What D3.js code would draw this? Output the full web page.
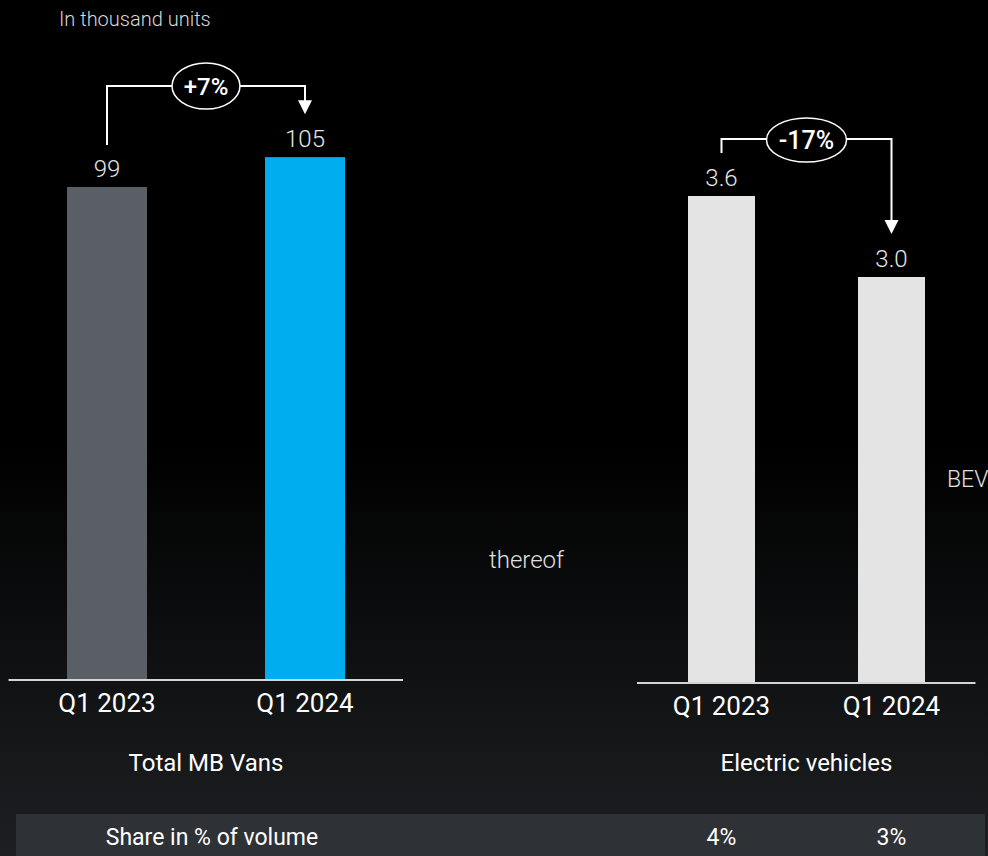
<!DOCTYPE html>
<html><head><meta charset="utf-8">
<script src="https://cdn.jsdelivr.net/npm/d3@7"></script>
<style>html,body{margin:0;padding:0;background:#000;overflow:hidden}</style>
</head><body>
<svg id="c" width="988" height="856"></svg>
<script>
const categories = ["Q1 2023", "Q1 2024"];
const totalVans = [99, 105];
const electric = [3.6, 3.0];
const totalLabels = ["99", "105"];
const electricLabels = ["3.6", "3.0"];
const shareLabels = ["4%", "3%"];
const changeTotal = "+7%";
const changeElectric = "-17%";

const FONT = "Roboto, 'Noto Sans', sans-serif";
const svg = d3.select("#c");

const defs = svg.append("defs");
const g = defs.append("linearGradient").attr("id","bg").attr("x1",0).attr("y1",0).attr("x2",0).attr("y2",1);
g.append("stop").attr("offset","0%").attr("stop-color","#000");
g.append("stop").attr("offset","52%").attr("stop-color","#000");
g.append("stop").attr("offset","100%").attr("stop-color","#1d1f22");
svg.append("rect").attr("width",988).attr("height",856).attr("fill","url(#bg)");

svg.append("text").attr("x",59).attr("y",26).attr("fill","#d8d8d8")
  .attr("font-family",FONT).attr("font-size",20).attr("font-weight",300).text("In thousand units");

function panel(opts){
  const x = d3.scaleBand().domain(categories).range(opts.xr).paddingInner(opts.pi).paddingOuter(opts.pi/2);
  const y = d3.scaleLinear().domain([0, opts.max]).range([opts.base, opts.top]);
  const gg = svg.append("g");
  gg.selectAll("rect.bar").data(opts.values).join("rect")
    .attr("x",(d,i)=>x(categories[i])).attr("width",x.bandwidth())
    .attr("y",d=>y(d)).attr("height",d=>y(0)-y(d))
    .attr("fill",(d,i)=>opts.colors[i]);
  gg.append("line").attr("x1",opts.xr[0]+0.5).attr("x2",opts.xr[1]-1).attr("y1",y(0)+1).attr("y2",y(0)+1)
    .attr("stroke","#d4d4d4").attr("stroke-width",2);
  gg.selectAll("text.val").data(opts.values).join("text")
    .attr("x",(d,i)=>x(categories[i])+x.bandwidth()/2).attr("y",d=>y(d)-10)
    .attr("text-anchor","middle").attr("fill","#e6e6e6").attr("font-family",FONT)
    .attr("font-weight",300).attr("font-size",24).text((d,i)=>opts.labels[i]);
  const ax = d3.axisBottom(x).tickSize(0).tickPadding(0);
  const axg = gg.append("g").attr("transform",`translate(0,${y(0)+33})`).call(ax);
  axg.select(".domain").remove();
  axg.selectAll("text").attr("fill","#fff").attr("font-family",FONT).attr("font-size",26).attr("dy",0);
  gg.append("text").attr("x",(opts.xr[0]+opts.xr[1])/2).attr("y",771)
    .attr("text-anchor","middle").attr("fill","#fff").attr("font-family",FONT).attr("font-size",24).text(opts.title);

  // change annotation
  const cx0 = x(categories[0])+x.bandwidth()/2, cx1 = x(categories[1])+x.bandwidth()/2;
  const yTop = opts.annY;
  const startY = y(opts.values[0]) - opts.startGap;
  const tipY = y(opts.values[1]) - opts.tipGap;
  gg.append("path").attr("d",`M${cx0},${startY}V${yTop}H${cx1}V${tipY-13}`)
    .attr("fill","none").attr("stroke","#fff").attr("stroke-width",2);
  gg.append("path").attr("d",`M${cx1-7},${tipY-14}L${cx1+7},${tipY-14}L${cx1},${tipY}Z`).attr("fill","#fff");
  const ex = (cx0+cx1)/2;
  gg.append("ellipse").attr("cx",ex).attr("cy",yTop+opts.eDy).attr("rx",opts.rx).attr("ry",opts.ry)
    .attr("fill","#000").attr("stroke","#fff").attr("stroke-width",1.5);
  gg.append("text").attr("x",ex).attr("y",yTop+opts.eDy+9).attr("text-anchor","middle")
    .attr("fill","#fff").attr("font-family",FONT).attr("font-size",opts.cfs).attr("font-weight",500).text(opts.change);
  return x;
}

panel({xr:[8,404], pi:1-80/198, max:105, base:679, top:679-105*4.97, values:totalVans, labels:totalLabels,
  colors:["#5a5f66","#00adef"], title:"Total MB Vans", change:changeTotal,
  annY:86, startGap:42, tipGap:43, eDy:0, rx:34, ry:23, cfs:24});

const xr = panel({xr:[636.5,976.5], pi:1-67/170, max:3.6, base:682, top:196, values:electric, labels:electricLabels,
  colors:["#e4e4e4","#e4e4e4"], title:"Electric vehicles", change:changeElectric,
  annY:139, startGap:43, tipGap:43, eDy:1, rx:40, ry:22, cfs:25});

svg.append("text").attr("x",489).attr("y",568).attr("fill","#e0e0e0").attr("font-family",FONT)
  .attr("font-weight",300).attr("font-size",24).text("thereof");
svg.append("text").attr("x",947).attr("y",487).attr("fill","#e0e0e0").attr("font-family",FONT)
  .attr("font-weight",300).attr("font-size",23).text("BEV");

// share row
svg.append("rect").attr("x",16).attr("y",814).attr("width",969).attr("height",42).attr("fill","#2e3135");
svg.append("text").attr("x",212).attr("y",845).attr("text-anchor","middle").attr("fill","#fff")
  .attr("font-family",FONT).attr("font-size",23).text("Share in % of volume");
svg.selectAll("text.share").data(shareLabels).join("text")
  .attr("x",(d,i)=>xr(categories[i])+xr.bandwidth()/2).attr("y",845).attr("text-anchor","middle")
  .attr("fill","#fff").attr("font-family",FONT).attr("font-size",23).text(d=>d);
</script>
</body></html>
